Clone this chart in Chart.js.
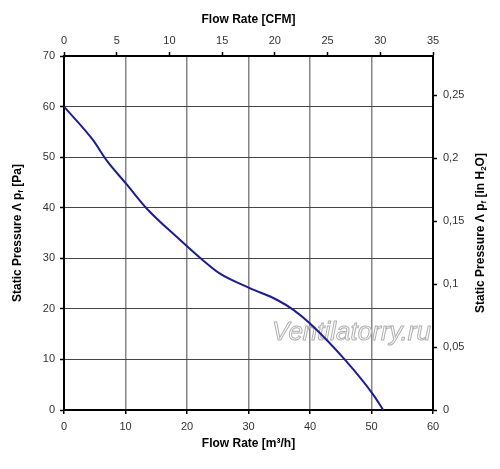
<!DOCTYPE html>
<html>
<head>
<meta charset="utf-8">
<script src="https://cdn.jsdelivr.net/npm/chart.js@4"></script>
<style>
  html, body { margin: 0; padding: 0; background: #fff; }
</style>
</head>
<body>
<canvas id="fanChart" width="500" height="469"></canvas>
<script>
// Fan curve
const flowM3h = [0, 4.7, 6.9, 10.2, 13.4, 18.8, 22.4, 25.3, 30.2, 34.6, 37.3, 40.0, 45.7, 50.3, 51.9];
const pressurePa = [60, 53.4, 49.4, 44.6, 39.9, 33.7, 29.8, 27.0, 24.1, 21.8, 19.8, 17.1, 9.9, 3.0, 0];

// axis ranges
const flowRange = [0, 60];
const cfmRange = [0, 35];
const paRange = [0, 70];
const inH2oMax = 70 / 249.0889; // same height as 70 Pa

const tickFont = { family: 'Arial, "Liberation Sans", sans-serif', size: 11 };
const tickColor = '#333';

function comma(v) {
    return parseFloat(v.toFixed(3)).toString().replace('.', ',');
}

// draw a text made of parts, some as subscript
function drawParts(ctx, x, y, parts, angle) {
    const big = 'bold 12px Arial, "Liberation Sans", sans-serif';
    const small = 'bold 8px Arial, "Liberation Sans", sans-serif';
    let w = 0;
    parts.forEach(p => { ctx.font = p.sub ? small : big; w += ctx.measureText(p.t).width; });
    ctx.save();
    ctx.translate(x, y);
    ctx.rotate(angle);
    ctx.fillStyle = '#000';
    ctx.textBaseline = 'middle';
    ctx.textAlign = 'left';
    let cx = -w / 2;
    parts.forEach(p => {
        ctx.font = p.sub ? small : big;
        ctx.fillText(p.t, cx, p.sub ? 3 : 0);
        cx += ctx.measureText(p.t).width;
    });
    ctx.restore();
}

const titlesPlugin = {
    id: 'titles',
    beforeDatasetsDraw(chart) {
        const ctx = chart.ctx;
        // watermark
        ctx.save();
        ctx.font = 'italic 26px Arial, "Liberation Sans", sans-serif';
        ctx.textAlign = 'left';
        ctx.textBaseline = 'middle';
        ctx.fillStyle = 'rgba(255,255,255,0.85)';
        ctx.strokeStyle = '#b0b0b0';
        ctx.lineWidth = 1;
        ctx.fillText('Ventilatorry.ru', 272, 333);
        ctx.strokeText('Ventilatorry.ru', 272, 333);
        ctx.restore();
    },
    afterDraw(chart) {
        const ctx = chart.ctx;
        const a = chart.chartArea;
        const midX = (a.left + a.right) / 2;
        const midY = (a.top + a.bottom) / 2;
        drawParts(ctx, midX, 20, [{ t: 'Flow Rate [CFM]' }], 0);
        drawParts(ctx, midX, 444, [{ t: 'Flow Rate [m³/h]' }], 0);
        drawParts(ctx, 18, midY, [{ t: 'Static Pressure Λ p' }, { t: 'f', sub: true }, { t: ' [Pa]' }], -Math.PI / 2);
        drawParts(ctx, 481, midY, [{ t: 'Static Pressure Λ p' }, { t: 'f', sub: true }, { t: ' [in H' }, { t: '2', sub: true }, { t: 'O]' }], -Math.PI / 2);
    }
};

function fixSize(prop, size) {
    return function (scale) { scale[prop] = size; };
}

new Chart(document.getElementById('fanChart'), {
    type: 'line',
    data: {
        datasets: [{
            data: flowM3h.map((x, i) => ({ x: x, y: pressurePa[i] })),
            borderColor: '#1c1c96',
            borderWidth: 2,
            pointRadius: 0,
            cubicInterpolationMode: 'monotone',
            fill: false,
            xAxisID: 'x',
            yAxisID: 'y'
        }]
    },
    options: {
        responsive: false,
        animation: false,
        layout: { padding: 0 },
        plugins: { legend: { display: false }, tooltip: { enabled: false } },
        scales: {
            x: {
                type: 'linear', position: 'bottom',
                min: flowRange[0], max: flowRange[1],
                afterFit: fixSize('height', 59),
                ticks: { stepSize: 10, padding: 6, font: tickFont, color: tickColor, maxRotation: 0 },
                grid: { color: '#858585', lineWidth: 1.5, tickLength: 4, tickColor: '#000', tickWidth: 1.5 },
                border: { color: '#000', width: 2 }
            },
            x2: {
                type: 'linear', position: 'top',
                min: cfmRange[0], max: cfmRange[1],
                afterFit: fixSize('height', 56),
                ticks: { stepSize: 5, padding: 4, font: tickFont, color: tickColor, maxRotation: 0 },
                grid: { drawOnChartArea: false, tickLength: 4, tickColor: '#000', tickWidth: 1.5 },
                border: { color: '#000', width: 2 }
            },
            y: {
                type: 'linear', position: 'left',
                min: paRange[0], max: paRange[1],
                afterFit: fixSize('width', 64),
                ticks: { stepSize: 10, padding: 5, font: tickFont, color: tickColor },
                grid: { color: '#454545', lineWidth: 1, tickLength: 4, tickColor: '#000', tickWidth: 1.5 },
                border: { color: '#000', width: 2 }
            },
            y2: {
                type: 'linear', position: 'right',
                min: 0, max: inH2oMax,
                afterFit: fixSize('width', 67),
                ticks: { stepSize: 0.05, includeBounds: false, padding: 6, font: tickFont, color: tickColor,
                    callback: v => comma(v) },
                grid: { drawOnChartArea: false, tickLength: 4, tickColor: '#000', tickWidth: 1.5 },
                border: { color: '#000', width: 2 }
            }
        }
    },
    plugins: [titlesPlugin]
});
</script>
</body>
</html>
